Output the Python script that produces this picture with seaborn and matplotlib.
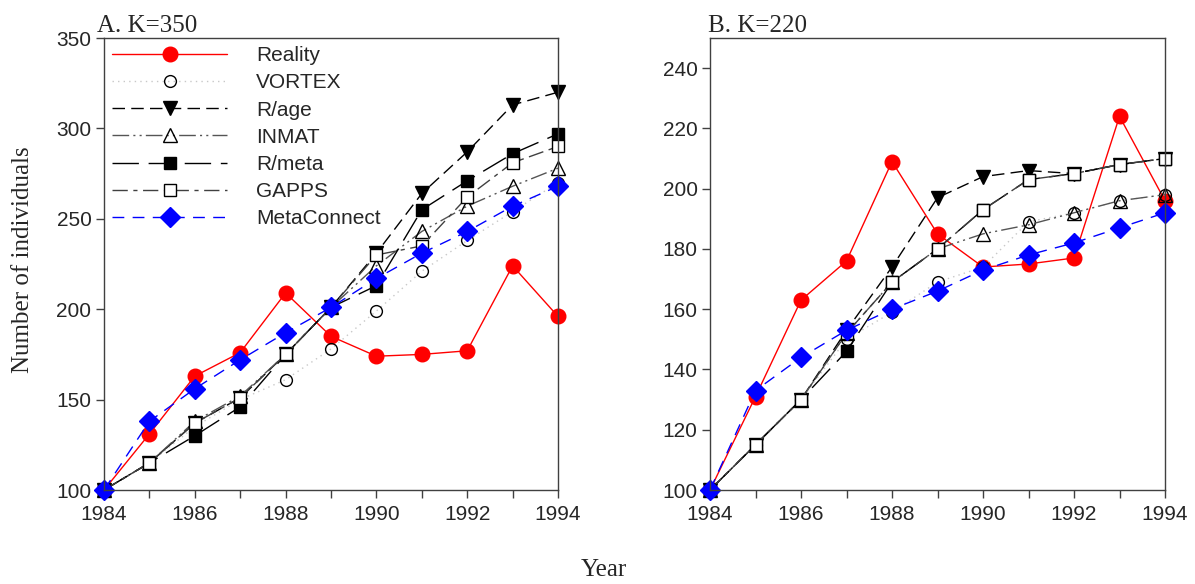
import numpy as np
import pandas as pd
import matplotlib
matplotlib.use("Agg")
import matplotlib.pyplot as plt
import seaborn as sns

sns.set_theme(style="white")
plt.rcParams['font.family'] = ['Liberation Sans', 'DejaVu Sans']

years = list(range(1984, 1995))

# Panel A (K=350)
a_reality = [100, 131, 163, 176, 209, 185, 174, 175, 177, 224, 196]
a_vortex = [100, 115, 135, 150, 161, 178, 199, 221, 238, 254, 270]
a_rage = [100, 115, 137, 151, 175, 201, 231, 264, 287, 313, 320]
a_inmat = [100, 115, 138, 152, 175, 201, 224, 243, 257, 268, 278]
a_rmeta = [100, 115, 130, 146, 175, 201, 213, 255, 271, 286, 297]
a_gapps = [100, 115, 137, 151, 175, 201, 230, 235, 262, 281, 290]
a_meta = [100, 138, 156, 172, 187, 201, 217, 231, 243, 257, 268]

# Panel B (K=220)
b_reality = [100, 131, 163, 176, 209, 185, 174, 175, 177, 224, 196]
b_vortex = [100, 115, 130, 150, 159, 169, 174, 189, 192, 196, 198]
b_rage = [100, 115, 130, 153, 174, 197, 204, 206, 205, 208, 210]
b_inmat = [100, 115, 130, 152, 169, 180, 185, 188, 192, 196, 198]
b_rmeta = [100, 115, 130, 146, 169, 180, 193, 203, 205, 208, 210]
b_gapps = [100, 115, 130, 152, 169, 180, 193, 203, 205, 208, 210]
b_meta = [100, 133, 144, 153, 160, 166, 173, 178, 182, 187, 192]

names = ["Reality", "VORTEX", "R/age", "INMAT", "R/meta", "GAPPS", "MetaConnect"]
panel_a = [a_reality, a_vortex, a_rage, a_inmat, a_rmeta, a_gapps, a_meta]
panel_b = [b_reality, b_vortex, b_rage, b_inmat, b_rmeta, b_gapps, b_meta]

styles = {
    "Reality": dict(color="#ff0000", linestyle="-", marker="o", markersize=10.5,
                    markerfacecolor="#ff0000", markeredgecolor="#ff0000"),
    "VORTEX": dict(color="#c8c8c8", linestyle=(0, (1, 3)), marker="o", markersize=8.5,
                   markerfacecolor="none", markeredgecolor="black"),
    "R/age": dict(color="black", linestyle=(0, (9, 4.5)), marker="v", markersize=10,
                  markerfacecolor="black", markeredgecolor="black"),
    "INMAT": dict(color="#555555", linestyle=(0, (12, 3, 1.5, 3, 1.5, 3)), marker="^", markersize=9.5,
                  markerfacecolor="none", markeredgecolor="black"),
    "R/meta": dict(color="black", linestyle=(0, (19, 7)), marker="s", markersize=8.5,
                   markerfacecolor="black", markeredgecolor="black"),
    "GAPPS": dict(color="#404040", linestyle=(0, (11, 4, 3, 4)), marker="s", markersize=8.5,
                  markerfacecolor="white", markeredgecolor="black"),
    "MetaConnect": dict(color="#0000ff", linestyle=(0, (8.5, 6)), marker="D", markersize=10,
                        markerfacecolor="#0000ff", markeredgecolor="#0000ff"),
}

fig = plt.figure(figsize=(11.95, 5.84), dpi=100)
axA = fig.add_axes([104/1195, 94/584, 454/1195, 452/584])
axB = fig.add_axes([710/1195, 94/584, 455/1195, 452/584])

def draw(ax, data):
    for name, vals in zip(names, data):
        df = pd.DataFrame({"Year": years, "N": vals})
        sns.lineplot(data=df, x="Year", y="N", ax=ax, label=name, linewidth=1,
                     markeredgewidth=1, clip_on=False, legend=False, **styles[name])
    ax.set_xlabel("")
    ax.set_ylabel("")
    ax.set_xlim(1984, 1994)
    ax.set_xticks(range(1984, 1995, 2))
    ax.set_xticks(range(1985, 1995, 2), minor=True)
    for s in ax.spines.values():
        s.set_visible(True)
        s.set_color("#404040")
        s.set_linewidth(1)
    ax.tick_params(axis="both", which="both", direction="out", length=6, width=1,
                   color="#404040", labelsize=15, pad=3, bottom=True, left=True)
    ax.tick_params(axis="x", pad=5)
    ax.grid(False)

draw(axA, panel_a)
draw(axB, panel_b)

axA.set_ylim(100, 350)
axA.set_yticks(range(100, 351, 50))
axB.set_ylim(100, 250)
axB.set_yticks(range(100, 241, 20))

serif = ['Liberation Serif', 'DejaVu Serif']
axA.set_title("A. K=350", loc="left", fontsize=18, family=serif, pad=4, x=-0.015)
axB.set_title("B. K=220", loc="left", fontsize=18, family=serif, pad=4, x=-0.005)

fig.text(0.019, 0.555, "Number of individuals", rotation=90, va="center", ha="center",
         fontsize=18, family=serif)
fig.text(0.505, 0.024, "Year", va="center", ha="center", fontsize=18, family=serif)

handles, labels = axA.get_legend_handles_labels()
axA.legend(handles, labels, loc="upper left", bbox_to_anchor=(0.0, 1.0), frameon=False,
           fontsize=15, handlelength=5.5, handletextpad=1.4, labelspacing=0.39,
           borderaxespad=0.0, borderpad=0.4, numpoints=1)

fig.savefig("out.png", dpi=100)
